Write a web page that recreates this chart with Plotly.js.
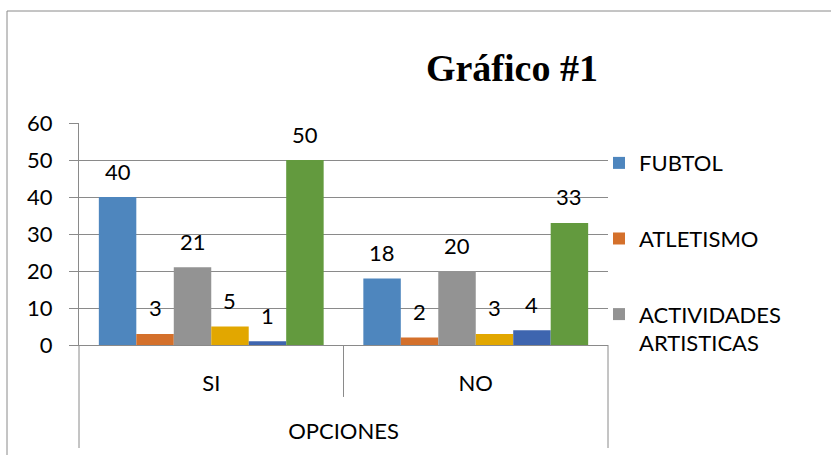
<!DOCTYPE html>
<html>
<head>
<meta charset="utf-8">
<script src="https://cdn.plot.ly/plotly-3.0.1.min.js"></script>
<style>html,body{margin:0;padding:0;background:#fff;}#chart{width:831px;height:455px;}</style>
</head>
<body>
<div id="chart"></div>
<script>
// ---- data ----
const categories = ["SI", "NO"];
const seriesNames = ["FUBTOL", "ATLETISMO", "ACTIVIDADES<br>ARTISTICAS", "Serie 4", "Serie 5", "Serie 6"];
const fubtol     = [40, 18];
const atletismo  = [3, 2];
const artisticas = [21, 20];
const serie4     = [5, 3];
const serie5     = [1, 4];
const serie6     = [50, 33];
const showInLegend = [true, true, true, false, false, false];
const axisTitle = "OPCIONES";
const chartTitle = "Gráfico #1";

// ---- style ----
const colors = ["#4E86BE", "#D4702B", "#939393", "#E2A700", "#3E65AF", "#639A3E"];
const allValues = [fubtol, atletismo, artisticas, serie4, serie5, serie6];
const FONT = "Lato, 'Open Sans', sans-serif";
const GRID = "#8a8a8a";
const bargap = 0.15;

const traces = allValues.map((vals, i) => ({
  type: "bar",
  name: seriesNames[i],
  x: categories,
  y: vals,
  marker: {color: colors[i]},
  showlegend: showInLegend[i],
  legendgroup: "g" + i,
  hoverinfo: "y+name"
}));

// data labels placed above each bar, using the axis scale
const nS = allValues.length;
const w = (1 - bargap) / nS;
const annotations = [];
allValues.forEach((vals, i) => {
  vals.forEach((v, j) => {
    annotations.push({
      x: j + (i - (nS - 1) / 2) * w,
      y: v,
      xref: "x", yref: "y",
      text: String(v),
      showarrow: false,
      yanchor: "middle",
      yshift: 26,
      font: {family: FONT, size: 22, color: "#000"}
    });
  });
});

const shapes = [
  // outer chart border
  {type: "rect", xref: "paper", yref: "paper", x0: -0.1361, x1: 2, y0: -2, y1: 1.5045,
   line: {color: "#8a8a8a", width: 1}, fillcolor: "rgba(0,0,0,0)", layer: "below"},
  // category box dividers below the axis
  {type: "line", xref: "paper", yref: "paper", x0: 0, x1: 0, y0: 0, y1: -0.464, line: {color: GRID, width: 1}},
  {type: "line", xref: "paper", yref: "paper", x0: 0.5, x1: 0.5, y0: 0, y1: -0.234, line: {color: GRID, width: 1}},
  {type: "line", xref: "paper", yref: "paper", x0: 1, x1: 1, y0: 0, y1: -0.464, line: {color: GRID, width: 1}}
];

const layout = {
  width: 831, height: 455,
  margin: {l: 79, r: 223, t: 123, b: 110},
  paper_bgcolor: "#fff", plot_bgcolor: "#fff",
  font: {family: FONT, size: 22, color: "#000"},
  title: {
    text: chartTitle,
    font: {family: "'Liberation Serif', serif", size: 38, weight: "bold", color: "#000"},
    xref: "container", yref: "container", x: 0.616, xanchor: "center", y: 0.8505, yanchor: "middle"
  },
  bargap: bargap, bargroupgap: 0,
  barmode: "group",
  xaxis: {
    type: "category",
    showgrid: false, zeroline: false,
    showline: true, linecolor: GRID, linewidth: 1,
    ticks: "", ticklabelstandoff: 19,
    tickfont: {family: FONT, size: 22, color: "#000"},
    title: {text: axisTitle, standoff: 28, font: {family: FONT, size: 22, color: "#000"}},
    automargin: false, fixedrange: true
  },
  yaxis: {
    range: [0, 60], dtick: 10, tick0: 0,
    showgrid: true, gridcolor: GRID, gridwidth: 1,
    zeroline: false,
    showline: true, linecolor: GRID, linewidth: 1,
    ticks: "outside", ticklen: 9, tickcolor: GRID, tickwidth: 1,
    ticklabelstandoff: 12,
    tickfont: {family: FONT, size: 22, color: "#000"},
    automargin: false, fixedrange: true
  },
  legend: {
    x: 0.983, xanchor: "left", y: 0.914, yanchor: "top",
    font: {family: FONT, size: 22, color: "#000"},
    tracegroupgap: 44, valign: "top",
    bgcolor: "rgba(0,0,0,0)"
  },
  annotations: annotations,
  shapes: shapes
};

Plotly.newPlot("chart", traces, layout, {displayModeBar: false, staticPlot: true});
</script>
</body>
</html>
